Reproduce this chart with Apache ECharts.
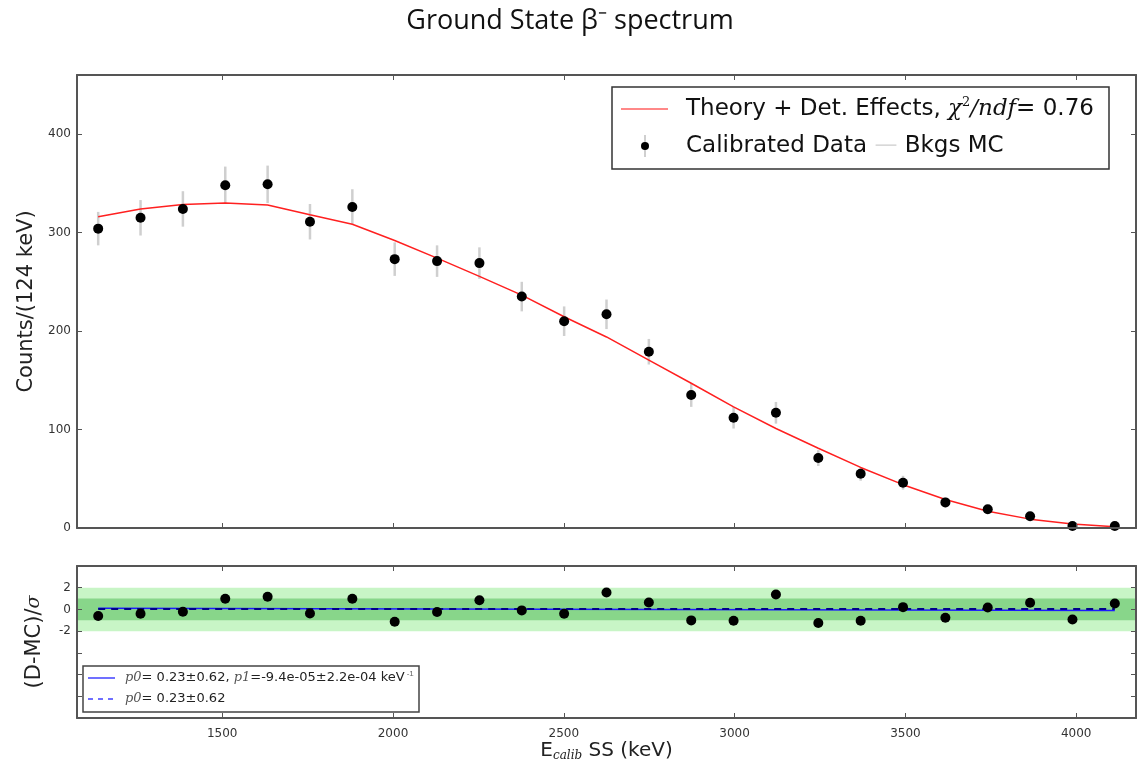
<!DOCTYPE html>
<html>
<head>
<meta charset="utf-8">
<script src="https://cdn.jsdelivr.net/npm/echarts@6/dist/echarts.min.js"></script>
<style>
  html, body { margin: 0; padding: 0; background: #fff; }
  #main { width: 1140px; height: 762px; }
</style>
</head>
<body>
<div id="main"></div>
<script>
// bin centres (keV), 124 keV wide
const energy = [1137, 1261, 1385, 1509, 1633, 1757, 1881, 2005, 2129, 2253, 2377, 2501, 2625,
  2749, 2873, 2997, 3121, 3245, 3369, 3493, 3617, 3741, 3865, 3989, 4113];
const counts = [304, 315, 324, 348, 349, 311, 326, 273, 271, 269, 235, 210, 217,
  179, 135, 112, 117, 71, 55, 46, 26, 19, 12, 2, 2];
const countErr = [17, 18, 18, 19, 19, 18, 18, 17, 16, 16, 15, 15, 15,
  13, 12, 11, 11, 8, 7, 7, 5, 4, 4, 2, 1];
const fitCurve = [316, 324, 328.5, 330, 328, 318, 308.5, 292, 274, 255.5, 236.5, 214.5, 194,
  170.5, 147, 123, 101, 81, 61.5, 44, 29, 17, 9, 4, 1.3];
const resid = [-0.61, -0.40, -0.21, 0.98, 1.16, -0.37, 0.98, -1.13, -0.24, 0.85, -0.09, -0.40, 1.56,
  0.64, -1.01, -1.04, 1.37, -1.25, -1.04, 0.21, -0.76, 0.18, 0.61, -0.92, 0.55];
const linFitEnds = [0.1, -0.1];
const constFit = 0.05;
const countTicks = [0, 100, 200, 300, 400];
const residTicks = [-2, 0, 2];

const frame = '#555';
const tickFont = { color: '#333', fontSize: 12, fontFamily: 'DejaVu Sans' };
const xMin = 1075, xMax = 4175;

let chart = echarts.init(document.getElementById('main'));

function xAx(grid, pos, labels) {
  return {
    type: 'value', gridIndex: grid, position: pos, min: xMin, max: xMax, splitNumber: 6, z: 10,
    axisLine: { show: true, onZero: false, lineStyle: { color: frame, width: 2 } },
    axisTick: { show: true, inside: true, length: 5, lineStyle: { color: frame } },
    axisLabel: Object.assign({ show: labels, margin: 10, showMinLabel: false, showMaxLabel: false,
      formatter: v => String(v) }, tickFont),
    splitLine: { show: false }
  };
}
function yAx(grid, pos, min, max, labelled, extra) {
  return Object.assign({
    type: 'value', gridIndex: grid, position: pos, min: min, max: max, interval: grid === 0 ? 100 : 2, z: 10,
    axisLine: { show: true, onZero: false, lineStyle: { color: frame, width: 2 } },
    axisTick: { show: true, inside: true, length: 5, lineStyle: { color: frame } },
    axisLabel: Object.assign({ show: !!labelled, margin: 6,
      formatter: v => (labelled && labelled.indexOf(v) >= 0 ? String(v) : '') }, tickFont),
    splitLine: { show: false }
  }, extra || {});
}

let option = {
  animation: false,
  backgroundColor: '#fff',
  title: {
    text: 'Ground State β⁻ spectrum',
    left: 'center', top: 3,
    textStyle: { fontFamily: 'Open Sans', fontWeight: 'normal', fontSize: 27, color: '#111' }
  },
  grid: [
    { left: 77, top: 75, width: 1059, height: 453, outerBoundsMode: 'none' },
    { left: 77, top: 566, width: 1059, height: 152, outerBoundsMode: 'none' }
  ],
  xAxis: [
    xAx(0, 'bottom', false),
    Object.assign(xAx(1, 'bottom', true), {
      name: 'E{s|calib} SS (keV)', nameLocation: 'middle', nameGap: 21,
      nameTextStyle: { fontFamily: 'DejaVu Sans', fontSize: 20, color: '#222',
        rich: { s: { fontFamily: 'DejaVu Serif', fontStyle: 'italic', fontSize: 12, verticalAlign: 'bottom', padding: [10, 0, 0, 0], color: '#222' } } }
    }),
    xAx(0, 'top', false),
    xAx(1, 'top', false)
  ],
  yAxis: [
    yAx(0, 'left', 0, 460, countTicks, {
      name: 'Counts/(124 keV)', nameLocation: 'middle', nameGap: 32,
      nameTextStyle: { fontFamily: 'DejaVu Sans', fontSize: 21, color: '#222' }
    }),
    yAx(1, 'left', -10, 4, residTicks, {
      name: '(D-MC)/{s|σ}', nameLocation: 'middle', nameGap: 32,
      nameTextStyle: { fontFamily: 'DejaVu Sans', fontSize: 21, color: '#222',
        rich: { s: { fontFamily: 'DejaVu Serif', fontStyle: 'italic', fontSize: 19, color: '#222' } } }
    }),
    yAx(0, 'right', 0, 460, null),
    yAx(1, 'right', -10, 4, null)
  ],
  series: [
    {
      name: 'bands', type: 'line', xAxisIndex: 1, yAxisIndex: 1, data: [], z: 1,
      markArea: {
        silent: true,
        data: [
          [{ yAxis: -2, itemStyle: { color: '#c8f5c6' } }, { yAxis: 2 }],
          [{ yAxis: -1, itemStyle: { color: '#88d68a' } }, { yAxis: 1 }]
        ]
      }
    },
    {
      name: 'errors', type: 'custom', xAxisIndex: 0, yAxisIndex: 0, z: 3,
      data: energy.map((e, i) => [e, counts[i] - countErr[i], counts[i] + countErr[i]]),
      renderItem: function (params, api) {
        let lo = api.coord([api.value(0), api.value(1)]);
        let hi = api.coord([api.value(0), api.value(2)]);
        return { type: 'line', shape: { x1: lo[0], y1: lo[1], x2: hi[0], y2: hi[1] },
          style: { stroke: '#cfcfcf', lineWidth: 2.5 } };
      }
    },
    {
      name: 'Theory', type: 'line', xAxisIndex: 0, yAxisIndex: 0, z: 4,
      symbol: 'none', lineStyle: { color: '#ff2020', width: 1.5 },
      data: energy.map((e, i) => [e, fitCurve[i]])
    },
    {
      name: 'Calibrated Data', type: 'scatter', xAxisIndex: 0, yAxisIndex: 0, z: 5,
      symbolSize: 10, itemStyle: { color: '#000', opacity: 1 },
      data: energy.map((e, i) => [e, counts[i]])
    },
    {
      name: 'linear', type: 'line', xAxisIndex: 1, yAxisIndex: 1, z: 4, symbol: 'none',
      lineStyle: { color: '#1a1aff', width: 1.5 },
      data: [[energy[0], linFitEnds[0]], [energy[energy.length - 1], linFitEnds[1]]]
    },
    {
      name: 'const', type: 'line', xAxisIndex: 1, yAxisIndex: 1, z: 4, symbol: 'none',
      lineStyle: { color: '#00008b', width: 2, type: [7, 6] },
      data: [[energy[0], constFit], [energy[energy.length - 1], constFit]]
    },
    {
      name: 'residuals', type: 'scatter', xAxisIndex: 1, yAxisIndex: 1, z: 5,
      symbolSize: 10, itemStyle: { color: '#000', opacity: 1 },
      data: energy.map((e, i) => [e, resid[i]])
    }
  ],
  graphic: [
    // top legend
    { type: 'rect', z: 50, shape: { x: 612, y: 87, width: 497, height: 82 },
      style: { fill: '#fff', stroke: '#333', lineWidth: 1.5 } },
    { type: 'line', z: 51, shape: { x1: 621, y1: 109, x2: 668, y2: 109 },
      style: { stroke: '#ff6060', lineWidth: 1.5 } },
    { type: 'text', z: 51, x: 686, y: 109,
      style: { text: 'Theory + Det. Effects, {m|χ}{sup|2}{m|/ndf}= 0.76', fontFamily: 'DejaVu Sans', fontSize: 23,
        fill: '#111', verticalAlign: 'middle',
        rich: {
          m: { fontFamily: 'DejaVu Serif', fontStyle: 'italic', fontSize: 23, fill: '#111' },
          sup: { fontFamily: 'DejaVu Serif', fontSize: 13, fill: '#111', padding: [0, 0, 13, 0] }
        } } },
    { type: 'line', z: 51, shape: { x1: 645, y1: 135, x2: 645, y2: 157 },
      style: { stroke: '#cfcfcf', lineWidth: 2 } },
    { type: 'circle', z: 52, shape: { cx: 645, cy: 146, r: 4 }, style: { fill: '#000' } },
    { type: 'text', z: 51, x: 686, y: 146,
      style: { text: 'Calibrated Data {g|—} Bkgs MC', fontFamily: 'DejaVu Sans', fontSize: 23,
        fill: '#111', verticalAlign: 'middle',
        rich: { g: { fill: '#d8d8d8', fontSize: 23, fontFamily: 'DejaVu Sans' } } } },
    // residual legend
    { type: 'rect', z: 50, shape: { x: 83, y: 666, width: 336, height: 46 },
      style: { fill: '#fff', stroke: '#444', lineWidth: 1.5 } },
    { type: 'line', z: 51, shape: { x1: 88, y1: 678, x2: 115, y2: 678 },
      style: { stroke: '#4040ff', lineWidth: 1.5 } },
    { type: 'line', z: 51, shape: { x1: 88, y1: 699, x2: 115, y2: 699 },
      style: { stroke: '#4040ff', lineWidth: 1.5, lineDash: [5, 5] } },
    { type: 'text', z: 51, x: 125, y: 678,
      style: { text: '{m|p0}= 0.23±0.62, {m|p1}=-9.4e-05±2.2e-04 keV{sup|-1}', fontFamily: 'DejaVu Sans', fontSize: 13,
        fill: '#222', verticalAlign: 'middle',
        rich: {
          m: { fontFamily: 'DejaVu Serif', fontStyle: 'italic', fontSize: 13, fill: '#555' },
          sup: { fontSize: 8, fill: '#666', padding: [0, 0, 9, 2] }
        } } },
    { type: 'text', z: 51, x: 125, y: 699,
      style: { text: '{m|p0}= 0.23±0.62', fontFamily: 'DejaVu Sans', fontSize: 13,
        fill: '#222', verticalAlign: 'middle',
        rich: { m: { fontFamily: 'DejaVu Serif', fontStyle: 'italic', fontSize: 13, fill: '#555' } } } }
  ]
};
chart.setOption(option);
</script>
</body>
</html>
